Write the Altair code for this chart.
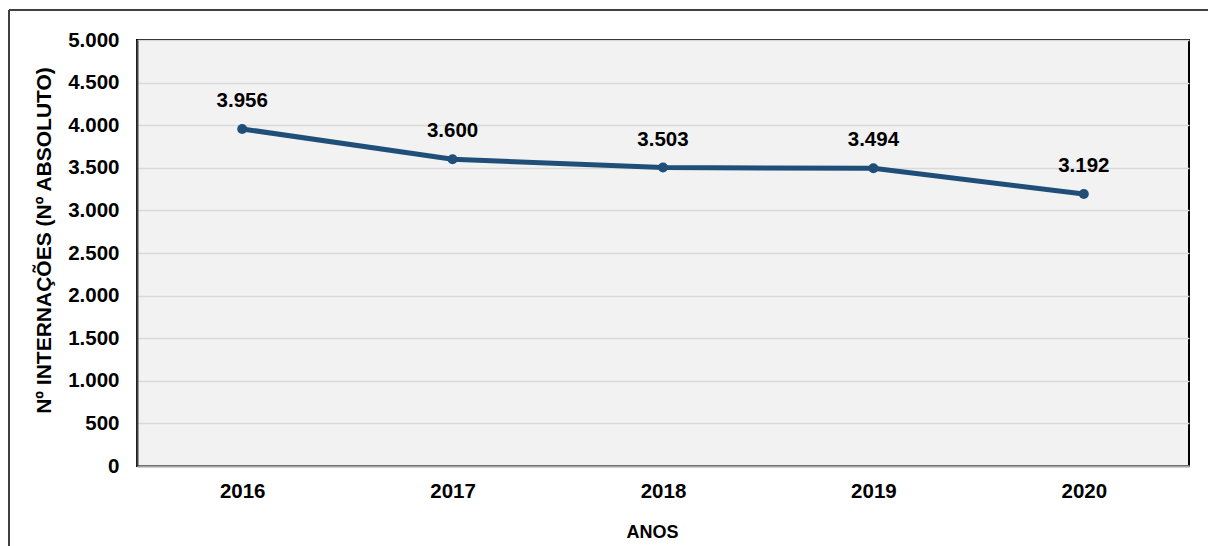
import altair as alt
import pandas as pd

anos = ["2016", "2017", "2018", "2019", "2020"]
internacoes = [3956, 3600, 3503, 3494, 3192]
y_ticks = [0, 500, 1000, 1500, 2000, 2500, 3000, 3500, 4000, 4500, 5000]

df = pd.DataFrame({"ano": anos, "valor": internacoes})

FONT = "Liberation Sans"
LINE = "#1f4e79"

base = alt.Chart(df).encode(
    x=alt.X("ano:O",
            scale=alt.Scale(type="point", padding=0.5),
            axis=alt.Axis(title="ANOS", labelAngle=0, labelFontSize=20.5, labelFont=FONT,
                          labelFontWeight="bold", labelColor="#000", labelPadding=15,
                          ticks=False, domainColor="#a6a6a6", domainWidth=2,
                          titleFontSize=18, titleFont=FONT, titleFontWeight="bold",
                          titleColor="#000", titleX=515, titleY=66,
                          titleBaseline="middle", grid=False)),
    y=alt.Y("valor:Q",
            scale=alt.Scale(domain=[0, 5000], nice=False),
            axis=alt.Axis(title="Nº INTERNAÇÕES (Nº ABSOLUTO)", values=y_ticks,
                          labelExpr="replace(format(datum.value, ','), ',', '.')",
                          labelFontSize=20.5, labelFont=FONT, labelFontWeight="bold",
                          labelColor="#000", labelPadding=18, ticks=False,
                          domainColor="#404040", domainWidth=2,
                          gridColor="#d9d9d9", gridWidth=1.5,
                          titleFontSize=21, titleFont=FONT, titleFontWeight="bold",
                          titleColor="#000", titleAngle=-90, titleX=-93, titleY=200,
                          titleAlign="center", titleBaseline="middle")),
)

line = base.mark_line(color=LINE, strokeWidth=5)
points = base.mark_point(color=LINE, filled=True, size=100, opacity=1)
labels = base.transform_calculate(
    lab="replace(format(datum.valor, ','), ',', '.')"
).mark_text(dy=-28, fontSize=20.5, font=FONT, fontWeight="bold", color="#000").encode(
    text="lab:N")

frame_top = alt.Chart(df).mark_rule(color="#404040", strokeWidth=2).encode(
    x=alt.value(-128), x2=alt.value(1100), y=alt.value(-30))
frame_left = alt.Chart(df).mark_rule(color="#404040", strokeWidth=2).encode(
    x=alt.value(-128), y=alt.value(-30), y2=alt.value(600))

chart = alt.layer(line, points, labels, frame_top, frame_left).properties(
    width=1052, height=426,
    autosize=alt.AutoSizeParams(type="none"),
    padding={"left": 137, "top": 40, "right": 19, "bottom": 80},
    background="white",
).configure_view(
    fill="#f2f2f2", stroke="#000", strokeWidth=2
)

chart.save("out.html", embed_options={"renderer": "svg", "actions": False})
